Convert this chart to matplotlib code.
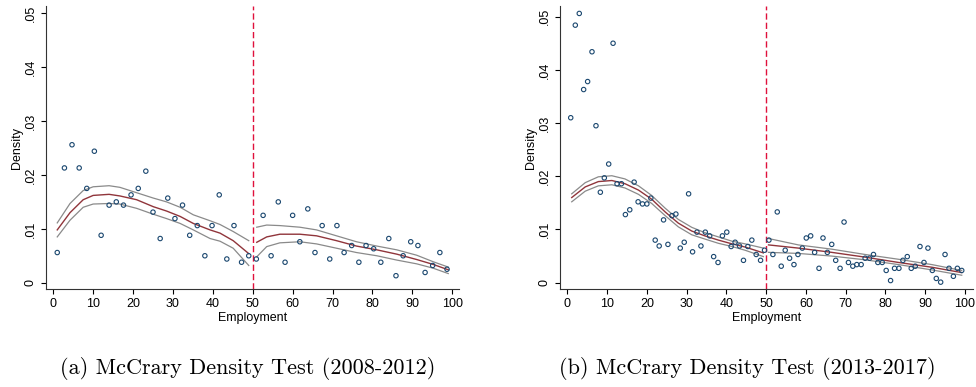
from __future__ import annotations

import matplotlib

matplotlib.use("Agg")

import matplotlib.pyplot as plt

OUTPUT_PATH = "out.png"

NAVY = "#1a476f"
MAROON = "#90353b"
GRIS = "#8a8a8a"
CORTE_COLOR = "#e0103c"

CORTE = 50
Y_TICKS = [0, 0.01, 0.02, 0.03, 0.04, 0.05]
Y_TICK_LABELS = ["0", ".01", ".02", ".03", ".04", ".05"]
X_TICKS = [0, 10, 20, 30, 40, 50, 60, 70, 80, 90, 100]

# ---- Panel (a): 2008-2012 ----
A_BIN_X = [
    1.0, 2.8, 4.7, 6.5, 8.4, 10.3, 12.0, 14.0, 15.8, 17.6, 19.5, 21.3, 23.2,
    25.0, 26.8, 28.7, 30.5, 32.4, 34.2, 36.1, 38.0, 39.8, 41.6, 43.5, 45.3,
    47.2, 49.0, 50.9, 52.6, 54.6, 56.4, 58.1, 60.0, 61.8, 63.8, 65.6, 67.4,
    69.3, 71.1, 72.9, 74.8, 76.6, 78.4, 80.3, 82.1, 84.1, 85.9, 87.7, 89.6,
    91.4, 93.2, 95.1, 96.9, 98.7,
]
A_BIN_Y = [
    0.0056, 0.0213, 0.0256, 0.0213, 0.0175, 0.0244, 0.0088, 0.0144, 0.0150,
    0.0144, 0.0163, 0.0175, 0.0207, 0.0131, 0.0082, 0.0157, 0.0119, 0.0144,
    0.0088, 0.0106, 0.0050, 0.0106, 0.0163, 0.0044, 0.0106, 0.0038, 0.0050,
    0.0044, 0.0125, 0.0050, 0.0150, 0.0038, 0.0125, 0.0076, 0.0137, 0.0056,
    0.0106, 0.0044, 0.0106, 0.0056, 0.0069, 0.0038, 0.0069, 0.0063, 0.0038,
    0.0082, 0.0013, 0.0050, 0.0076, 0.0069, 0.0019, 0.0032, 0.0056, 0.0025,
]
A_IZQ_X = [1.0, 4.2, 7.5, 10.0, 14.0, 16.7, 20.9, 25.1, 28.4, 31.8, 35.1, 39.3, 41.8, 45.1, 49.0]
A_IZQ_FIT = [0.0098, 0.0130, 0.0154, 0.0162, 0.0164, 0.0161, 0.0154, 0.0141, 0.0133,
             0.0123, 0.0110, 0.0098, 0.0092, 0.0078, 0.0054]
A_IZQ_SUP = [0.0111, 0.0147, 0.0171, 0.0178, 0.0180, 0.0177, 0.0167, 0.0157, 0.0150,
             0.0140, 0.0126, 0.0115, 0.0108, 0.0095, 0.0078]
A_IZQ_INF = [0.0085, 0.0116, 0.0140, 0.0146, 0.0147, 0.0146, 0.0138, 0.0127, 0.0119,
             0.0110, 0.0098, 0.0082, 0.0077, 0.0064, 0.0032]
A_DER_X = [51.0, 53.5, 56.8, 61.8, 66.0, 71.0, 76.0, 81.1, 86.1, 91.1, 95.2, 99.0]
A_DER_FIT = [0.0075, 0.0085, 0.0090, 0.0090, 0.0087, 0.0078, 0.0068, 0.0061, 0.0053,
             0.0043, 0.0034, 0.0024]
A_DER_SUP = [0.0103, 0.0107, 0.0106, 0.0103, 0.0098, 0.0087, 0.0076, 0.0068, 0.0061,
             0.0051, 0.0039, 0.0029]
A_DER_INF = [0.0048, 0.0067, 0.0074, 0.0076, 0.0072, 0.0064, 0.0056, 0.0050, 0.0042,
             0.0035, 0.0027, 0.0017]

# ---- Panel (b): 2013-2017 ----
B_BIN_X = [
    0.85, 2.0, 3.0, 4.1, 5.1, 6.2, 7.2, 8.3, 9.3, 10.4, 11.5, 12.5, 13.6,
    14.6, 15.7, 16.8, 17.8, 18.9, 20.0, 21.0, 22.1, 23.1, 24.2, 25.3, 26.3,
    27.3, 28.4, 29.4, 30.5, 31.5, 32.6, 33.6, 34.7, 35.8, 36.8, 37.9, 39.0,
    40.1, 41.2, 42.2, 43.3, 44.3, 45.4, 46.4, 47.5, 48.6, 49.6, 50.7, 51.7,
    52.8, 53.8, 54.8, 55.9, 57.0, 58.0, 59.1, 60.1, 61.2, 62.2, 63.3, 64.3,
    65.4, 66.5, 67.5, 68.6, 69.6, 70.7, 71.8, 72.8, 73.9, 74.9, 76.0, 77.0,
    78.1, 79.2, 80.2, 81.3, 82.3, 83.4, 84.4, 85.5, 86.5, 87.5, 88.7, 89.7,
    90.7, 91.8, 92.8, 93.9, 95.0, 96.0, 97.1, 98.1, 99.2,
]
B_BIN_Y = [
    0.0310, 0.0484, 0.0506, 0.0363, 0.0378, 0.0434, 0.0295, 0.0170, 0.0197,
    0.0223, 0.0450, 0.0186, 0.0186, 0.0128, 0.0137, 0.0189, 0.0152, 0.0148,
    0.0148, 0.0159, 0.0080, 0.0069, 0.0118, 0.0072, 0.0126, 0.0129, 0.0065,
    0.0076, 0.0167, 0.0058, 0.0095, 0.0069, 0.0095, 0.0088, 0.0049, 0.0038,
    0.0088, 0.0095, 0.0068, 0.0076, 0.0069, 0.0042, 0.0068, 0.0080, 0.0053,
    0.0042, 0.0061, 0.0080, 0.0053, 0.0133, 0.0031, 0.0061, 0.0046, 0.0034,
    0.0053, 0.0065, 0.0084, 0.0088, 0.0057, 0.0027, 0.0084, 0.0057, 0.0072,
    0.0042, 0.0027, 0.0114, 0.0038, 0.0031, 0.0034, 0.0034, 0.0046, 0.0046,
    0.0053, 0.0038, 0.0038, 0.0023, 0.0004, 0.0027, 0.0027, 0.0042, 0.0049,
    0.0027, 0.0031, 0.0068, 0.0038, 0.0065, 0.0023, 0.0008, 0.0001, 0.0053,
    0.0027, 0.0012, 0.0027, 0.0023,
]
B_IZQ_X = [1.1, 4.5, 7.8, 11.2, 14.5, 17.9, 21.2, 24.6, 27.9, 31.3, 34.6, 38.0, 41.4, 44.7, 49.3]
B_IZQ_FIT = [0.0160, 0.0180, 0.0190, 0.0192, 0.0186, 0.0174, 0.0157, 0.0133, 0.0112,
             0.0097, 0.0088, 0.0080, 0.0073, 0.0067, 0.0056]
B_IZQ_SUP = [0.0167, 0.0188, 0.0199, 0.0201, 0.0195, 0.0182, 0.0164, 0.0140, 0.0119,
             0.0104, 0.0094, 0.0086, 0.0078, 0.0073, 0.0065]
B_IZQ_INF = [0.0152, 0.0172, 0.0182, 0.0184, 0.0178, 0.0166, 0.0149, 0.0126, 0.0105,
             0.0090, 0.0082, 0.0074, 0.0068, 0.0061, 0.0049]
B_DER_X = [50.6, 58.1, 66.5, 74.9, 83.3, 91.7, 99.2]
B_DER_FIT = [0.0071, 0.0065, 0.0057, 0.0048, 0.0038, 0.0029, 0.0019]
B_DER_SUP = [0.0083, 0.0071, 0.0063, 0.0053, 0.0044, 0.0034, 0.0023]
B_DER_INF = [0.0057, 0.0055, 0.0050, 0.0043, 0.0034, 0.0024, 0.0014]


def dibujar_panel(ax, bin_x, bin_y, tramos, xlim, ylim) -> None:
    for tx, fit, sup, inf in tramos:
        ax.plot(tx, sup, color=GRIS, linewidth=0.9)
        ax.plot(tx, inf, color=GRIS, linewidth=0.9)
        ax.plot(tx, fit, color=MAROON, linewidth=1.0)

    ax.scatter(
        bin_x, bin_y, s=10, facecolors="none", edgecolors=NAVY, linewidths=0.8, zorder=3
    )
    ax.axvline(CORTE, color=CORTE_COLOR, linewidth=1.0, linestyle=(0, (4.5, 2.2)))

    ax.set_xlim(*xlim)
    ax.set_ylim(*ylim)
    ax.set_xticks(X_TICKS)
    ax.set_yticks(Y_TICKS)
    ax.set_yticklabels(Y_TICK_LABELS, rotation=90, va="center")
    ax.tick_params(direction="out", length=3.6, width=0.8, labelsize=9, pad=3)
    for lado in ("top", "right"):
        ax.spines[lado].set_visible(False)
    for lado in ("left", "bottom"):
        ax.spines[lado].set_linewidth(0.8)
        ax.spines[lado].set_color("#333333")
    ax.set_xlabel("Employment", fontsize=9, labelpad=1)
    ax.set_ylabel("Density", fontsize=9, labelpad=1)


def main() -> None:
    plt.rcParams["font.family"] = ["Liberation Sans", "DejaVu Sans"]
    fig = plt.figure(figsize=(9.76, 3.87), dpi=100)

    ax_a = fig.add_axes([0.0468, 0.2525, 0.4235, 0.732])
    dibujar_panel(
        ax_a,
        A_BIN_X,
        A_BIN_Y,
        [
            (A_IZQ_X, A_IZQ_FIT, A_IZQ_SUP, A_IZQ_INF),
            (A_DER_X, A_DER_FIT, A_DER_SUP, A_DER_INF),
        ],
        (-1.9, 101.7),
        (-0.00122, 0.05135),
    )

    ax_b = fig.add_axes([0.5738, 0.2525, 0.4234, 0.732])
    dibujar_panel(
        ax_b,
        B_BIN_X,
        B_BIN_Y,
        [
            (B_IZQ_X, B_IZQ_FIT, B_IZQ_SUP, B_IZQ_INF),
            (B_DER_X, B_DER_FIT, B_DER_SUP, B_DER_INF),
        ],
        (-1.84, 102.1),
        (-0.00124, 0.0520),
    )

    fig.text(0.254, 0.049, "(a) McCrary Density Test (2008-2012)",
             fontfamily="cmr10", fontsize=16, ha="center", va="center")
    fig.text(0.766, 0.049, "(b) McCrary Density Test (2013-2017)",
             fontfamily="cmr10", fontsize=16, ha="center", va="center")

    fig.savefig(OUTPUT_PATH, dpi=100)
    plt.close(fig)


if __name__ == "__main__":
    main()
